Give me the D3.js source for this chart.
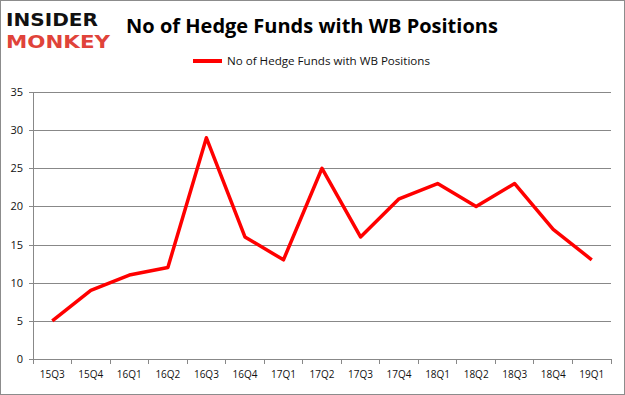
<!DOCTYPE html>
<html lang="en">
<head>
<meta charset="UTF-8" />
<title>WB Positions</title>
<script src="https://d3js.org/d3.v7.min.js"></script>
<style>
  body { margin: 0; background: #fff; }
  text { font-family: "Open Sans", "DejaVu Sans", sans-serif; }
</style>
</head>
<body>
<svg id="chart" width="625" height="395"></svg>
<script>
const quarters = ["15Q3","15Q4","16Q1","16Q2","16Q3","16Q4","17Q1","17Q2","17Q3","17Q4","18Q1","18Q2","18Q3","18Q4","19Q1"];
const funds = [5, 9, 11, 12, 29, 16, 13, 25, 16, 21, 23, 20, 23, 17, 13];
const yTicks = [0, 5, 10, 15, 20, 25, 30, 35];
const seriesName = "No of Hedge Funds with WB Positions";

const svg = d3.select("svg#chart");
const width = +svg.attr("width");
const height = +svg.attr("height");
const margin = {top: 92, right: 14, bottom: 36, left: 33};
const plotWidth = width - margin.left - margin.right;
const plotHeight = height - margin.top - margin.bottom;

// outer border
svg.append("rect")
  .attr("x", 0.5).attr("y", 0.5)
  .attr("width", width - 1).attr("height", height - 1)
  .attr("fill", "#fff").attr("stroke", "#8c8c8c");

// logo
svg.append("text").attr("x", 6).attr("y", 26)
  .style("font-family", "'DejaVu Sans', sans-serif")
  .style("font-weight", "900").style("font-size", "18px")
  .attr("textLength", 92).attr("lengthAdjust", "spacingAndGlyphs")
  .attr("fill", "#111").text("INSIDER");
svg.append("text").attr("x", 6).attr("y", 48)
  .style("font-family", "'DejaVu Sans', sans-serif")
  .style("font-weight", "900").style("font-size", "18px")
  .attr("textLength", 104).attr("lengthAdjust", "spacingAndGlyphs")
  .attr("fill", "#e0433a").text("MONKEY");

// title
svg.append("text").attr("x", 312).attr("y", 33)
  .attr("text-anchor", "middle")
  .style("font-size", "20px").style("font-weight", "bold")
  .attr("fill", "#000").text(seriesName);

// legend
svg.append("line").attr("x1", 193).attr("x2", 222).attr("y1", 61).attr("y2", 61)
  .attr("stroke", "#ff0000").attr("stroke-width", 4);
svg.append("text").attr("x", 227).attr("y", 65)
  .style("font-size", "11px").attr("textLength", 203).attr("lengthAdjust", "spacingAndGlyphs")
  .attr("fill", "#111").text(seriesName);

const plot = svg.append("g").attr("transform", `translate(${margin.left},${margin.top})`);

const x = d3.scaleBand().domain(quarters).range([0, plotWidth]);
const y = d3.scaleLinear().domain([0, 35]).range([plotHeight, 0]);

// gridlines
plot.append("g")
  .call(d3.axisLeft(y).tickValues(yTicks).tickSize(-plotWidth).tickFormat(""))
  .call(g => g.select(".domain").remove())
  .call(g => g.selectAll("line").attr("stroke", "#888").attr("shape-rendering", "crispEdges"));

// y axis
plot.append("g")
  .call(d3.axisLeft(y).tickValues(yTicks).tickSize(4).tickPadding(6))
  .call(g => g.select(".domain").attr("stroke", "#888").attr("shape-rendering", "crispEdges"))
  .call(g => g.selectAll("line").attr("stroke", "#888").attr("shape-rendering", "crispEdges"))
  .call(g => g.selectAll("text").style("font-size", "11px").attr("fill", "#111"));

// x axis with ticks between categories
const xAxis = plot.append("g").attr("transform", `translate(0,${plotHeight})`)
  .call(d3.axisBottom(x).tickSize(0).tickPadding(12))
  .call(g => g.select(".domain").attr("stroke", "#888").attr("shape-rendering", "crispEdges"))
  .call(g => g.selectAll("text").style("font-size", "10px").attr("fill", "#111"));
xAxis.selectAll(".sep").data(quarters.concat(["end"]))
  .join("line").attr("class", "sep")
  .attr("x1", (d, i) => i * x.bandwidth()).attr("x2", (d, i) => i * x.bandwidth())
  .attr("y1", 0).attr("y2", 5)
  .attr("stroke", "#888").attr("shape-rendering", "crispEdges");

// line
const line = d3.line()
  .x((d, i) => x(quarters[i]) + x.bandwidth() / 2)
  .y(d => y(d));
plot.append("path").datum(funds)
  .attr("fill", "none").attr("stroke", "#ff0000")
  .attr("stroke-width", 3.5).attr("stroke-linejoin", "round")
  .attr("d", line);
</script>
</body>
</html>
